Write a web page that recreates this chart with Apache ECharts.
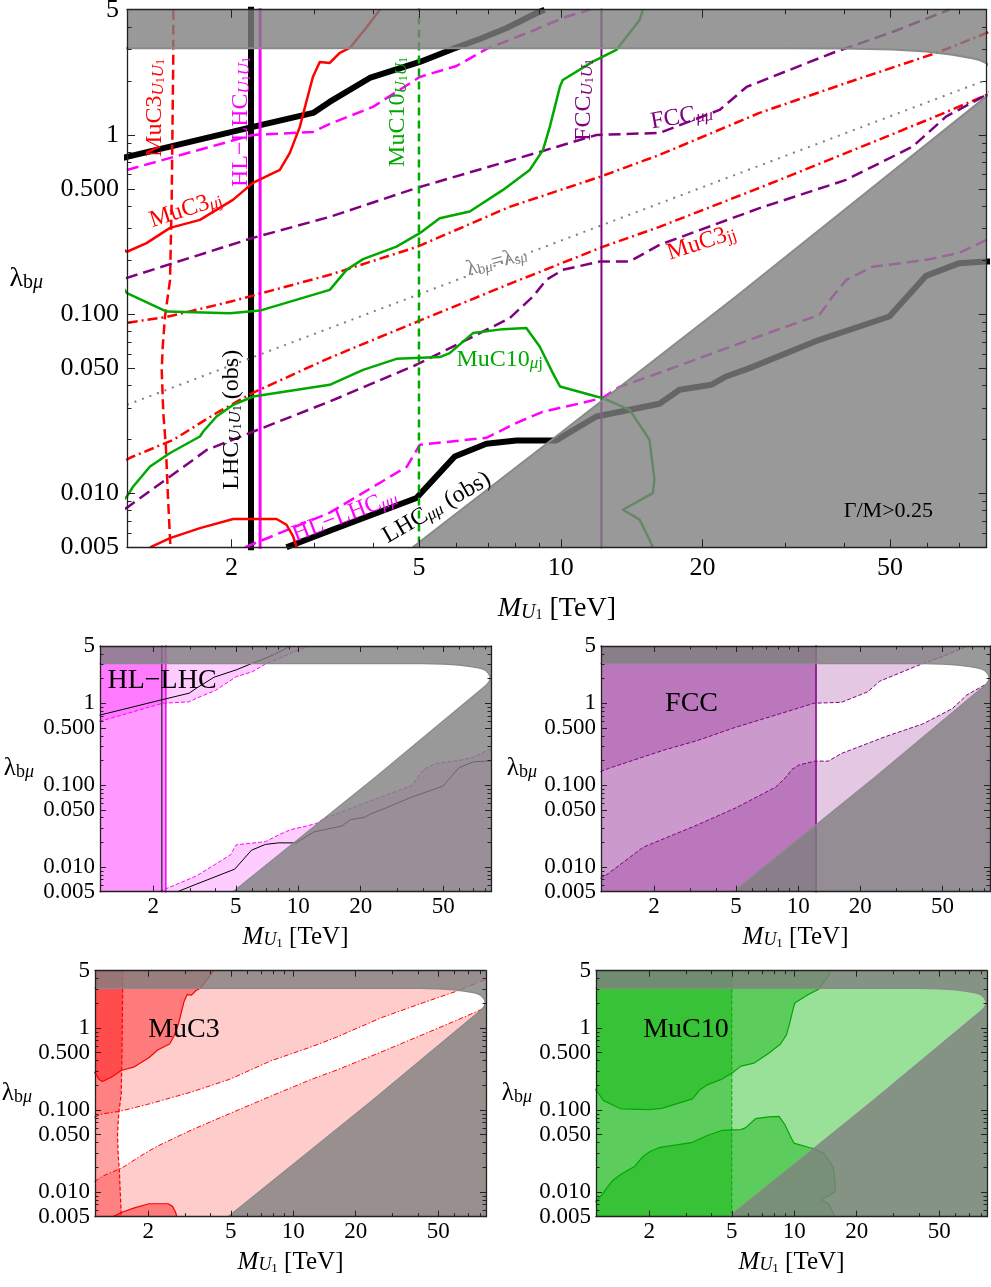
<!DOCTYPE html>
<html><head><meta charset="utf-8">
<script src="https://cdn.jsdelivr.net/npm/echarts@6/dist/echarts.min.js"></script>
<style>html,body{margin:0;padding:0;background:#fff}#c{width:991px;height:1287px}</style>
</head><body><div id="c"></div>
<script>
const FONT = 'Liberation Serif';
const L = Math.log10;

// ---------------- ticks ----------------
const xTickValues = [2, 5, 10, 20, 50];
const xTickLabels = ['2', '5', '10', '20', '50'];
const xMinorTicks = [3, 4, 6, 7, 8, 9, 30, 40, 60, 70, 80];
const yTickValues = [0.005, 0.01, 0.05, 0.1, 0.5, 1, 5];
const yTickLabels = ['0.005', '0.010', '0.050', '0.100', '0.500', '1', '5'];
const yMinorTicks = [0.006,0.007,0.008,0.009,0.02,0.03,0.04,0.06,0.07,0.08,0.09,0.2,0.3,0.4,0.6,0.7,0.8,0.9,2,3,4];

// ---------------- axis ranges ----------------
const mainXRange = [1.2, 80.2];
const smallXRange = [1.107, 85];
const yRange = [0.005, 5];

// ---------------- vertical bounds (U1 pair production), TeV ----------------
const lhcU1U1Mass = 2.2;
const hlU1U1Mass = 2.3;
const muc10U1U1Mass = 5.0;
const fccU1U1Mass = 12.2;

// ---------------- curves: [M_U1 (TeV), lambda_bmu] ----------------
const lhcMuMuObsUpper = [[1.1,0.715],[1.2,0.754],[2.22,1.109],[2.98,1.327],[3.23,1.529],[3.93,2.08],[5.02,2.555],[5.9,3.02],[6.73,3.43],[7.68,3.95],[8.89,4.79],[9.24,5.0]];
const lhcMuMuObsLower = [[2.617,0.005],[3.233,0.00619],[4.938,0.00942],[5.955,0.01607],[6.952,0.01891],[8.048,0.01973],[9.784,0.01973],[10.1,0.0208],[11.9,0.02686],[16.2,0.03162],[17.87,0.03784],[20.86,0.04036],[22.45,0.04489],[25.15,0.05],[35.4,0.0719],[49.83,0.097],[59.62,0.1636],[70.15,0.1926],[80,0.1966],[86,0.198]];
const hlMuMuUpper = [[1.1,0.607],[1.2,0.638],[2.22,1.0],[2.98,1.04],[3.233,1.152],[3.99,1.433],[5.02,2.107],[6.01,2.427],[6.96,3.02],[8.59,3.755],[10.09,4.496],[11.51,5.0]];
const hlMuMuLower = [[2.135,0.005],[3.233,0.0078],[4.71,0.01407],[5.02,0.01867],[6.96,0.02043],[8.06,0.02476],[9.15,0.02852],[11.13,0.032],[12.27,0.03415],[13.33,0.0393],[16.2,0.0471],[18.49,0.0535],[25.15,0.0719],[35.4,0.0991],[37.73,0.125],[40.38,0.1554],[45.86,0.1837],[59.7,0.2009],[70.15,0.2198],[80.2,0.26],[86,0.28]];
const muc3U1U1 = [[1.505,5],[1.505,2.98],[1.493,0.434],[1.481,0.155],[1.445,0.097],[1.429,0.066],[1.422,0.0489],[1.433,0.028],[1.451,0.0183],[1.466,0.0096],[1.484,0.005]];
const muc3MuJUpper = [[1.1,0.293],[1.16,0.235],[1.2,0.223],[1.32,0.249],[1.481,0.303],[1.714,0.336],[2.014,0.434],[2.22,0.54],[2.533,0.638],[2.66,0.794],[2.793,1.109],[2.89,1.568],[2.977,2.107],[3.079,2.555],[3.233,2.522],[3.395,2.867],[3.566,3.058],[3.875,4.004],[4.129,5]];
const muc3MuJLower = [[1.343,0.005],[1.481,0.00563],[1.714,0.0064],[2.017,0.00719],[2.493,0.00719],[2.617,0.00668],[2.703,0.00575],[2.749,0.005]];
const muc3JJUpper = [[1.1,0.0815],[1.2,0.0895],[1.459,0.0966],[1.985,0.1172],[3.233,0.1658],[4.947,0.2373],[7.79,0.397],[12.09,0.583],[16.2,0.774],[26.41,1.327],[40.38,1.951],[62.68,2.867],[80.2,3.71],[86,3.95]];
const muc3JJLower = [[1.1,0.0134],[1.218,0.0158],[1.505,0.0199],[1.862,0.02817],[2.22,0.0364],[3.233,0.0571],[4.947,0.0906],[7.79,0.1476],[12.27,0.2373],[16.2,0.307],[26.41,0.5066],[40.38,0.794],[61.47,1.245],[80.2,1.672],[86,1.85]];
const equalCouplings = [[1.2,0.0312],[10,0.257],[80.2,2.03]];
const fccMuMuUpper = [[1.1,0.146],[1.2,0.1595],[2.22,0.2665],[3.233,0.349],[4.947,0.5066],[9.02,0.804],[11.91,1.0],[16.2,1.026],[21.73,1.379],[24.79,1.853],[37.73,2.867],[50.56,3.755],[66.8,5]];
const fccMuMuLower = [[1.1,0.0073],[1.2,0.00832],[1.774,0.0175],[3.233,0.03256],[4.938,0.0522],[5.717,0.0632],[7.79,0.095],[8.73,0.1254],[9.32,0.1554],[10.1,0.1767],[12.09,0.1966],[14.0,0.1966],[16.2,0.2436],[26.41,0.3904],[40.32,0.5613],[55.83,0.861],[65.73,1.265],[80,1.672],[86,1.95]];
const muc10MuJUpper = [[1.1,0.18],[1.2,0.131],[1.457,0.1034],[1.985,0.1013],[2.298,0.1047],[3.233,0.1367],[3.51,0.1767],[3.805,0.2027],[4.48,0.2383],[5.02,0.283],[5.534,0.343],[6.41,0.3737],[7.54,0.4937],[8.59,0.638],[9.17,0.825],[9.48,1.113],[9.96,1.861],[10.1,2.027],[11.7,2.564],[13.12,2.98],[14.7,4.38],[14.94,5]];
const muc10MuJLower = [[1.1,0.0076],[1.2,0.00961],[1.237,0.01093],[1.343,0.01413],[1.481,0.0168],[1.714,0.02077],[1.742,0.02215],[1.859,0.02686],[2.017,0.0312],[2.224,0.0347],[3.233,0.04036],[3.805,0.0489],[4.48,0.0563],[5.534,0.0576],[5.81,0.0606],[6.51,0.0784],[7.54,0.0825],[8.45,0.0836],[9.02,0.066],[9.62,0.0469],[9.96,0.0395],[11.9,0.0347],[12.29,0.034],[14.0,0.02926],[15.43,0.0199],[15.81,0.0119],[15.68,0.01004],[13.55,0.0081],[14.7,0.00713],[15.43,0.00551],[15.68,0.005]];
// boundary of the Gamma/M > 0.25 region (white tongue outline)
const widthBoundary = [[4.85,0.005],[9.94,0.0215],[23.56,0.1254],[80,1.636],[82,1.75],[83.6,1.88],[84.1,2.02],[83.8,2.15],[82.5,2.32],[80,2.52],[77,2.63],[74.7,2.68],[67.8,2.8],[59.6,2.92],[50.6,3.0],[40,3.04],[30,3.05],[1.1,3.05]];

// ---------------- styling ----------------
const RED = '#ff0000', MAG = '#ff00ff', GRN = '#00a800', PUR = '#800080', BLK = '#000000', GRY = '#808080';
const OVERLAY = 'rgba(128,128,128,0.8)';
const LO = 0.0005, HI = 20, XL = 0.5, XH = 200;

function richStyles(F, color) {
  const b = { fontFamily: FONT, fill: color, color: color };
  const s = Math.round(F * 0.7), ss = Math.round(F * 0.5);
  return {
    n: Object.assign({}, b, { fontSize: F, lineHeight: F, verticalAlign: 'top' }),
    i: Object.assign({}, b, { fontSize: F, lineHeight: F, verticalAlign: 'top', fontStyle: 'italic' }),
    s: Object.assign({}, b, { fontSize: s, lineHeight: s, padding: [Math.round(F * 0.48), 0, 0, 0], verticalAlign: 'bottom' }),
    si: Object.assign({}, b, { fontSize: s, lineHeight: s, padding: [Math.round(F * 0.48), 0, 0, 0], verticalAlign: 'bottom', fontStyle: 'italic' }),
    ss: Object.assign({}, b, { fontSize: ss, lineHeight: ss, padding: [Math.round(F * 0.68), 0, 0, 0], verticalAlign: 'bottom' })
  };
}
function labelFor(v, vals, labs) {
  for (let i = 0; i < vals.length; i++) if (Math.abs(L(vals[i]) - v) < 1e-6) return labs[i];
  return '';
}

const grids = [], xAxes = [], yAxes = [], series = [];
function addPanel(box, xr, fs, tMaj, tMin, mX, mY, xName, yName) {
  const gi = grids.length;
  grids.push({ left: box[0], top: box[1], width: box[2], height: box[3], containLabel: false, outerBoundsMode: 'none', show: false });
  const mk = (isX, pos, major, withLabel, nm) => {
    const vals = isX ? xTickValues : yTickValues;
    const tv = (major ? vals : (isX ? xMinorTicks : yMinorTicks)).map(L);
    const range = isX ? xr : yRange;
    const ax = {
      type: 'value', gridIndex: gi, position: pos, min: L(range[0]), max: L(range[1]), z: 50, silent: true,
      splitLine: { show: false }, splitArea: { show: false }, minorTick: { show: false }, axisPointer: { show: false },
      axisLine: { show: major, onZero: false, lineStyle: { color: '#222', width: 1.3 } },
      axisTick: { show: true, inside: true, length: major ? tMaj : tMin, customValues: tv, lineStyle: { color: '#222', width: 1 } },
      axisLabel: { show: false }
    };
    if (withLabel) {
      ax.axisLabel = { show: true, customValues: tv, margin: isX ? mX : mY, color: '#000', fontFamily: FONT, fontSize: fs,
        showMinLabel: true, showMaxLabel: true,
        formatter: v => labelFor(v, vals, isX ? xTickLabels : yTickLabels) };
    }
    if (nm) Object.assign(ax, nm);
    return ax;
  };
  xAxes.push(mk(true, 'bottom', true, true, xName), mk(true, 'bottom', false, false), mk(true, 'top', true, false), mk(true, 'top', false, false));
  yAxes.push(mk(false, 'left', true, true, yName), mk(false, 'left', false, false), mk(false, 'right', true, false), mk(false, 'right', false, false));
  return gi;
}
function xNameOpt(F, gap) {
  return { name: '{i|M}{si|U}{ss|1}{n| [TeV]}', nameLocation: 'middle', nameGap: gap, nameMoveOverlap: false,
    nameTextStyle: { fontFamily: FONT, fontSize: F, color: '#000', rich: richStyles(F, '#000') } };
}
function yNameOpt(F, gap) {
  return { name: '{n|λ}{s|b}{si|μ}', nameLocation: 'middle', nameRotate: 0, nameGap: gap, nameMoveOverlap: false,
    nameTextStyle: { fontFamily: FONT, fontSize: F, color: '#000', rich: richStyles(F, '#000') } };
}

function line(gi, pts, color, width, dash, z) {
  return { type: 'line', xAxisIndex: 4 * gi, yAxisIndex: 4 * gi, data: pts.map(p => [L(p[0]), L(p[1])]),
    showSymbol: false, symbol: 'none', clip: true, silent: true, z: z, animation: false,
    lineStyle: { color: color, width: width, type: dash || 'solid', cap: 'butt', join: 'round' }, emphasis: { disabled: true } };
}
function poly(gi, pts, color, z) {
  return { type: 'custom', coordinateSystem: 'cartesian2d', xAxisIndex: 4 * gi, yAxisIndex: 4 * gi, clip: true, silent: true, z: z,
    animation: false, data: [[L(pts[0][0]), L(pts[0][1])]],
    renderItem: (params, api) => ({ type: 'polygon', shape: { points: pts.map(p => api.coord([L(p[0]), L(p[1])])) }, style: { fill: color } }) };
}
function labels(gi, list, z) {
  return { type: 'custom', coordinateSystem: 'cartesian2d', xAxisIndex: 4 * gi, yAxisIndex: 4 * gi, silent: true, z: z, animation: false,
    data: list.map(l => [L(l.at[0]), L(l.at[1])]),
    renderItem: (params, api) => {
      const l = list[params.dataIndex];
      const p = api.coord([api.value(0), api.value(1)]);
      return { type: 'text', x: p[0], y: p[1], rotation: (l.rot || 0) * Math.PI / 180,
        style: { text: l.text, rich: richStyles(l.size, l.color), fill: l.color, fontFamily: FONT, fontSize: l.size, align: 'center', verticalAlign: 'middle' } };
    } };
}
const vline = m => [[m, LO], [m, HI]];
const above = c => c.concat([[c[c.length - 1][0], HI], [XL, HI], [XL, c[0][1]]]);
const below = c => c.concat([[c[c.length - 1][0], LO], [XL, LO], [XL, c[0][1]]]);
const leftOf = m => [[XL, LO], [m, LO], [m, HI], [XL, HI]];
const leftOfCurve = c => [[c[0][0], HI]].concat(c, [[c[c.length - 1][0], LO], [XL, LO], [XL, HI]]);
const wholePlane = [[XL, LO], [XH, LO], [XH, HI], [XL, HI]];
const overlayPoly = [[XL, HI], [XH, HI], [XH, LO], [widthBoundary[0][0], LO]].concat(widthBoundary, [[XL, widthBoundary[widthBoundary.length - 1][1]]]);

function addOverlay(gi, w) {
  series.push(poly(gi, overlayPoly, OVERLAY, 8));
  series.push(line(gi, widthBoundary, '#8a8a8a', w, null, 9));
}

// ---------------- main panel ----------------
const g0 = addPanel([127, 9.7, 859.7, 537.6], mainXRange, 26, 8, 4.5, 8, 8, xNameOpt(28, 47), yNameOpt(28, 84));
series.push(line(g0, lhcMuMuObsUpper, BLK, 6, null, 2));
series.push(line(g0, lhcMuMuObsLower, BLK, 6, null, 2));
series.push(line(g0, vline(lhcU1U1Mass), BLK, 6, null, 2));
series.push(line(g0, vline(hlU1U1Mass), MAG, 3, null, 3));
series.push(line(g0, hlMuMuUpper, MAG, 2.5, [12, 6], 3));
series.push(line(g0, hlMuMuLower, MAG, 2.5, [12, 6], 3));
series.push(line(g0, muc3U1U1, RED, 2.5, [10, 5], 3));
series.push(line(g0, muc3MuJUpper, RED, 2.5, null, 3));
series.push(line(g0, muc3MuJLower, RED, 2.5, null, 3));
series.push(line(g0, muc3JJUpper, RED, 2.5, [10, 4, 2, 4], 3));
series.push(line(g0, muc3JJLower, RED, 2.5, [10, 4, 2, 4], 3));
series.push(line(g0, equalCouplings, GRY, 2, [2, 6], 3));
series.push(line(g0, fccMuMuUpper, PUR, 2.5, [12, 6], 3));
series.push(line(g0, fccMuMuLower, PUR, 2.5, [12, 6], 3));
series.push(line(g0, vline(fccU1U1Mass), PUR, 2, null, 3));
series.push(line(g0, vline(muc10U1U1Mass), GRN, 2.5, [8, 5], 3));
series.push(line(g0, muc10MuJUpper, GRN, 2.5, null, 3));
series.push(line(g0, muc10MuJLower, GRN, 2.5, null, 3));
addOverlay(g0, 2);
const SUBU = '{si|U}{ss|1}{si|U}{ss|1}';
series.push(labels(g0, [
  { at: [1.376, 1.415], rot: 90, color: RED, size: 24, text: '{n|MuC3}' + SUBU },
  { at: [2.094, 1.182], rot: 90, color: MAG, size: 24, text: '{n|HL−LHC}' + SUBU },
  { at: [1.60, 0.382], rot: 18, color: RED, size: 24, text: '{n|MuC3}{si|μ}{s|j}' },
  { at: [4.51, 1.344], rot: 90, color: GRN, size: 24, text: '{n|MuC10}' + SUBU },
  { at: [11.18, 1.568], rot: 90, color: PUR, size: 24, text: '{n|FCC}' + SUBU },
  { at: [18.05, 1.26], rot: 10, color: PUR, size: 24, text: '{n|FCC}{si|μμ}' },
  { at: [19.9, 0.25], rot: 18, color: RED, size: 24, text: '{n|MuC3}{s|jj}' },
  { at: [7.31, 0.1958], rot: 15, color: GRY, size: 22, text: '{n|λ}{s|b}{si|μ}{n|=λ}{s|s}{si|μ}' },
  { at: [7.42, 0.0556], rot: 0, color: GRN, size: 24, text: '{n|MuC10}{si|μ}{s|j}' },
  { at: [3.48, 0.0075], rot: 21, color: MAG, size: 24, text: '{n|HL−LHC}{si|μμ}' },
  { at: [5.455, 0.00832], rot: 30, color: BLK, size: 24, text: '{n|LHC}{si|μμ}{n| (obs)}' },
  { at: [2.004, 0.02575], rot: 90, color: BLK, size: 24, text: '{n|LHC}' + SUBU + '{n| (obs)}' },
  { at: [49.6, 0.0079], rot: 0, color: BLK, size: 22, text: '{n|Γ/M>0.25}' }
], 12));

// ---------------- HL-LHC panel ----------------
const g1 = addPanel([100, 646, 391, 245.7], smallXRange, 23, 6, 3.5, 4, 5, xNameOpt(25, 33), yNameOpt(25, 66));
series.push(poly(g1, leftOf(hlU1U1Mass), 'rgba(255,0,255,0.4)', 1));
series.push(poly(g1, above(hlMuMuUpper), 'rgba(255,0,255,0.2)', 1));
series.push(poly(g1, below(hlMuMuLower), 'rgba(255,0,255,0.2)', 1));
series.push(line(g1, hlMuMuUpper, MAG, 1, [4, 2], 3));
series.push(line(g1, hlMuMuLower, MAG, 1, [4, 2], 3));
series.push(line(g1, vline(hlU1U1Mass), MAG, 1.5, null, 3));
series.push(line(g1, lhcMuMuObsUpper, BLK, 1, null, 3));
series.push(line(g1, lhcMuMuObsLower, BLK, 1, null, 3));
series.push(line(g1, vline(lhcU1U1Mass), BLK, 1, null, 3));
addOverlay(g1, 1.2);
series.push(labels(g1, [{ at: [2.204, 1.869], rot: 0, color: BLK, size: 28, text: '{n|HL−LHC}' }], 12));

// ---------------- FCC panel ----------------
const g2 = addPanel([601, 646, 389, 245.7], smallXRange, 23, 6, 3.5, 4, 5, xNameOpt(25, 33), yNameOpt(25, 64));
series.push(poly(g2, leftOf(fccU1U1Mass), 'rgba(128,0,128,0.4)', 1));
series.push(poly(g2, above(fccMuMuUpper), 'rgba(128,0,128,0.22)', 1));
series.push(poly(g2, below(fccMuMuLower), 'rgba(128,0,128,0.22)', 1));
series.push(line(g2, fccMuMuUpper, PUR, 1, [4, 2], 3));
series.push(line(g2, fccMuMuLower, PUR, 1, [4, 2], 3));
series.push(line(g2, vline(fccU1U1Mass), PUR, 1.5, null, 3));
addOverlay(g2, 1.2);
series.push(labels(g2, [{ at: [3.04, 0.98], rot: 0, color: BLK, size: 28, text: '{n|FCC}' }], 12));

// ---------------- MuC3 panel ----------------
const g3 = addPanel([95, 970.7, 391, 246], smallXRange, 23, 6, 3.5, 4, 5, xNameOpt(25, 33), yNameOpt(25, 63));
series.push(poly(g3, above(muc3JJUpper), 'rgba(255,0,0,0.2)', 1));
series.push(poly(g3, below(muc3JJLower), 'rgba(255,0,0,0.2)', 1));
series.push(poly(g3, leftOfCurve(muc3U1U1), 'rgba(255,0,0,0.37)', 1));
series.push(poly(g3, above(muc3MuJUpper), 'rgba(255,0,0,0.4)', 1));
series.push(poly(g3, below(muc3MuJLower), 'rgba(255,0,0,0.4)', 1));
series.push(line(g3, muc3U1U1, RED, 1.2, [4, 2], 3));
series.push(line(g3, muc3MuJUpper, RED, 1.2, null, 3));
series.push(line(g3, muc3MuJLower, RED, 1.2, null, 3));
series.push(line(g3, muc3JJUpper, RED, 1, [5, 2, 1.5, 2], 3));
series.push(line(g3, muc3JJLower, RED, 1, [5, 2, 1.5, 2], 3));
addOverlay(g3, 1.2);
series.push(labels(g3, [{ at: [2.974, 0.946], rot: 0, color: BLK, size: 28, text: '{n|MuC3}' }], 12));

// ---------------- MuC10 panel ----------------
const g4 = addPanel([596, 970.7, 391, 246], smallXRange, 23, 6, 3.5, 4, 5, xNameOpt(25, 33), yNameOpt(25, 64));
series.push(poly(g4, wholePlane, 'rgba(0,178,0,0.4)', 1));
series.push(poly(g4, leftOf(muc10U1U1Mass), 'rgba(0,178,0,0.4)', 1));
series.push(poly(g4, above(muc10MuJUpper), 'rgba(0,178,0,0.4)', 1));
series.push(poly(g4, below(muc10MuJLower), 'rgba(0,178,0,0.4)', 1));
series.push(line(g4, muc10MuJUpper, GRN, 1.2, null, 3));
series.push(line(g4, muc10MuJLower, GRN, 1.2, null, 3));
series.push(line(g4, vline(muc10U1U1Mass), GRN, 1, [4, 2], 3));
addOverlay(g4, 1.2);
series.push(labels(g4, [{ at: [3.006, 0.946], rot: 0, color: BLK, size: 28, text: '{n|MuC10}' }], 12));

const chart = echarts.init(document.getElementById('c'), null, { renderer: 'canvas', width: 991, height: 1287 });
chart.setOption({ animation: false, backgroundColor: '#ffffff', grid: grids, xAxis: xAxes, yAxis: yAxes, series: series, tooltip: { show: false } });
</script>
</body></html>
